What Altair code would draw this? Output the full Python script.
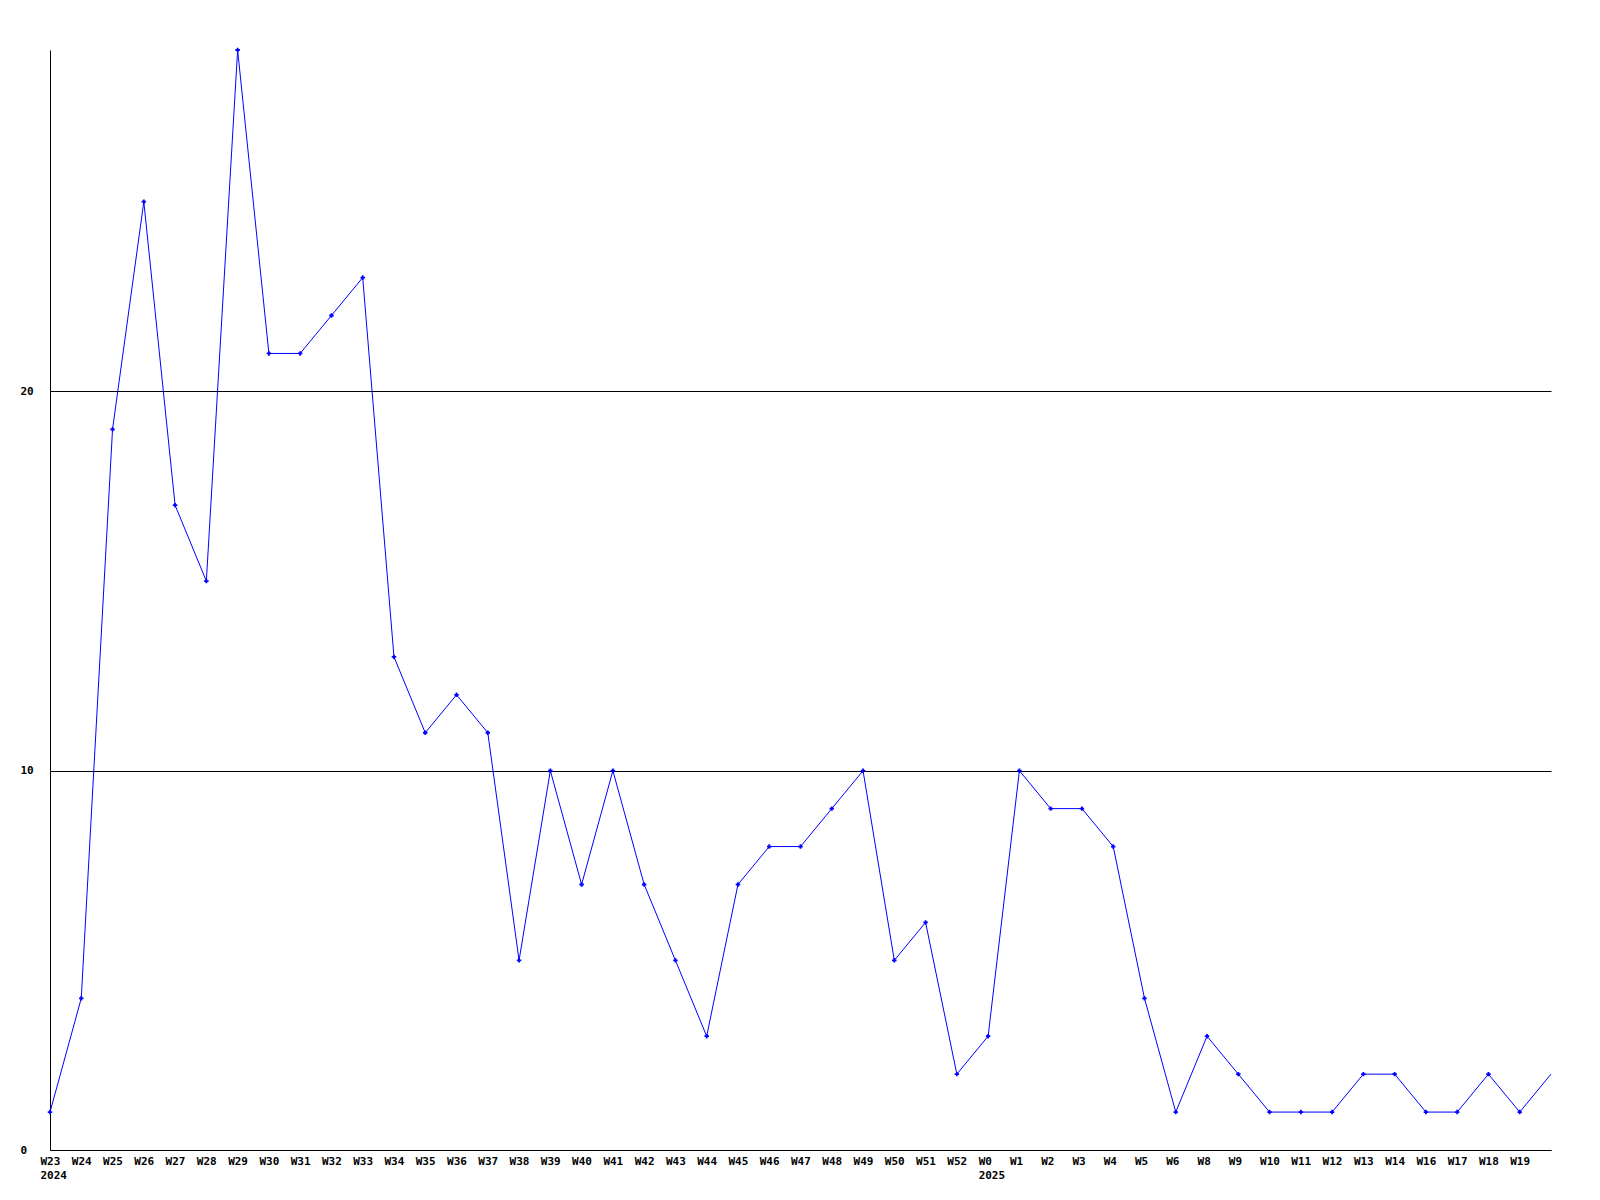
import json
import altair as alt
import pandas as pd

weeks = ["W23", "W24", "W25", "W26", "W27", "W28", "W29", "W30", "W31", "W32",
         "W33", "W34", "W35", "W36", "W37", "W38", "W39", "W40", "W41", "W42",
         "W43", "W44", "W45", "W46", "W47", "W48", "W49", "W50", "W51", "W52",
         "W0", "W1", "W2", "W3", "W4", "W5", "W6", "W8", "W9", "W10",
         "W11", "W12", "W13", "W14", "W16", "W17", "W18", "W19", ""]
years = ["2024"] + [""] * 29 + ["2025"] + [""] * 18
values = [1, 4, 19, 25, 17, 15, 29, 21, 21, 22,
          23, 13, 11, 12, 11, 5, 10, 7, 10, 7,
          5, 3, 7, 8, 8, 9, 10, 5, 6, 2,
          3, 10, 9, 9, 8, 4, 1, 3, 2, 1,
          1, 1, 2, 2, 1, 1, 2, 1, 2]
marked = [True] * 48 + [False]

df = pd.DataFrame({"i": list(range(len(values))), "v": values, "m": marked})

FONT = "DejaVu Sans Mono"
wk_js = json.dumps(weeks)
yr_js = json.dumps(years)
label_expr = (f"({yr_js})[datum.value] ? [({wk_js})[datum.value], ({yr_js})[datum.value]]"
              f" : ({wk_js})[datum.value]")

x = alt.X("i:Q", scale=alt.Scale(domain=[0, 48], nice=False, zero=False),
          axis=alt.Axis(values=list(range(49)), tickCount=60, labelExpr=label_expr,
                        title=None, grid=False, ticks=False, tickSize=0,
                        labelAlign="left", labelOffset=-10, labelBaseline="top",
                        labelPadding=5, labelOverlap=False, labelBound=False,
                        labelFlush=False,
                        labelFont=FONT, labelFontSize=11, labelFontWeight="bold",
                        labelColor="black", labelLineHeight=14.5,
                        domainColor="black", domainWidth=1))
y = alt.Y("v:Q", scale=alt.Scale(domain=[0, 29], nice=False),
          axis=alt.Axis(values=[0, 10, 20], title=None, grid=True, gridColor="black",
                        gridOpacity=1, gridWidth=1, ticks=False, tickSize=0,
                        labelAlign="left", labelBaseline="middle", labelPadding=30,
                        labelFont=FONT, labelFontSize=11, labelFontWeight="bold",
                        labelColor="black", domainColor="black", domainWidth=1))

line = alt.Chart(df).mark_line(color="#0000ff", strokeWidth=1).encode(x=x, y=y)
pts = alt.Chart(df).transform_filter("datum.m").mark_point(
    shape="cross", filled=True, color="#0000ff", size=20, opacity=1
).encode(x="i:Q", y="v:Q")

chart = (line + pts).properties(
    width=1501, height=1100,
    autosize=alt.AutoSizeParams(type="none"),
    padding={"left": 42, "top": 42, "right": 41, "bottom": 42},
    background="white",
).configure_view(stroke=None)

chart.save("out.html", embed_options={"renderer": "svg", "actions": False})
